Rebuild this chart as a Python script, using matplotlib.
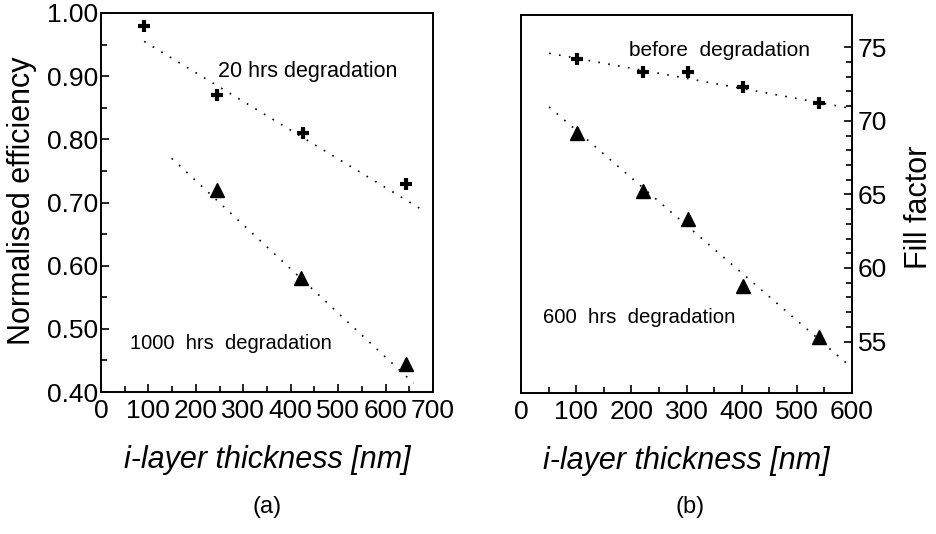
import matplotlib
matplotlib.use('Agg')
import matplotlib.pyplot as plt
from matplotlib.ticker import MultipleLocator, FixedLocator

plt.rcParams['font.family'] = ['Liberation Sans', 'DejaVu Sans']

# ---------------- data: panel (a) ----------------
a_x_20 = [91, 244, 425, 643]
a_y_20 = [0.98, 0.87, 0.81, 0.73]
a_x_1000 = [244, 422, 643]
a_y_1000 = [0.72, 0.58, 0.445]
a_fit20_x = [91, 676]
a_fit20_y = [0.955, 0.689]
a_fit1000_x = [149, 659]
a_fit1000_y = [0.770, 0.414]
a_xticks = [0, 100, 200, 300, 400, 500, 600, 700]
a_yticks = [0.40, 0.50, 0.60, 0.70, 0.80, 0.90, 1.00]

# ---------------- data: panel (b) ----------------
b_x = [101, 221, 302, 402, 541]
b_y_before = [74.2, 73.3, 73.3, 72.3, 71.2]
b_y_600 = [69.2, 65.2, 63.3, 58.8, 55.3]
b_fitb_x = [51, 591]
b_fitb_y = [74.6, 70.9]
b_fit600_x = [51, 597]
b_fit600_y = [70.95, 53.3]
b_xticks = [0, 100, 200, 300, 400, 500, 600]
b_yticks = [55, 60, 65, 70, 75]

W, H = 936, 534
fig = plt.figure(figsize=(W / 100, H / 100), dpi=100)

def frac(l, t, r, b):
    return [l / W, 1 - b / H, (r - l) / W, (b - t) / H]

dot = (0, (1, 5))
lw_spine = 1.4
tick_fs = 19

axa = fig.add_axes(frac(101, 13, 433, 392))
axb = fig.add_axes(frac(521, 15, 852, 393))

for ax in (axa, axb):
    for s in ax.spines.values():
        s.set_linewidth(lw_spine)

# panel (a)
axa.plot(a_fit20_x, a_fit20_y, color='black', lw=1.2, ls=dot)
axa.plot(a_fit1000_x, a_fit1000_y, color='black', lw=1.2, ls=dot)
axa.plot(a_x_20, a_y_20, ls='none', marker='+', ms=8.5, mew=3, color='black')
axa.plot(a_x_1000, a_y_1000, ls='none', marker='^', ms=9.5, color='black')
axa.set_xlim(0, 700)
axa.set_ylim(0.40, 1.00)
axa.set_xticks(a_xticks)
axa.set_xticklabels([str(v) for v in a_xticks])
axa.set_yticks(a_yticks)
axa.set_yticklabels(['%.2f' % v for v in a_yticks])
axa.xaxis.set_minor_locator(MultipleLocator(50))
axa.yaxis.set_minor_locator(MultipleLocator(0.05))
axa.tick_params(which='both', direction='in', top=False, right=False, labelsize=tick_fs, colors='black')
axa.tick_params(axis='x', which='both', pad=5)
axa.tick_params(axis='y', which='both', pad=2)
axa.tick_params(which='major', length=6, width=1.2)
axa.tick_params(which='minor', length=4, width=1.2)
axa.text(247, 0.907, '20 hrs degradation', fontsize=15.5, ha='left', va='center')
axa.text(61, 0.477, '1000  hrs  degradation', fontsize=14.5, ha='left', va='center')

# panel (b)
axb.plot(b_fitb_x, b_fitb_y, color='black', lw=1.2, ls=dot)
axb.plot(b_fit600_x, b_fit600_y, color='black', lw=1.2, ls=dot)
axb.plot(b_x, b_y_before, ls='none', marker='+', ms=9, mew=3, color='black')
axb.plot(b_x, b_y_600, ls='none', marker='^', ms=9.5, color='black')
axb.set_xlim(0, 600)
axb.set_ylim(51.5, 77.2)
axb.set_xticks(b_xticks)
axb.set_xticklabels([str(v) for v in b_xticks])
axb.yaxis.tick_right()
axb.set_yticks(b_yticks)
axb.set_yticklabels([str(v) for v in b_yticks])
axb.xaxis.set_minor_locator(MultipleLocator(50))
axb.yaxis.set_minor_locator(FixedLocator([v for v in range(56, 75) if v % 5 != 0]))
axb.tick_params(which='both', direction='in', top=False, left=False, labelleft=False,
                right=True, labelright=True, labelsize=tick_fs, colors='black')
axb.tick_params(axis='x', which='both', pad=5)
axb.tick_params(axis='y', which='both', pad=4)
axb.tick_params(which='major', length=6, width=1.2)
axb.tick_params(which='minor', length=4, width=1.2)
axb.text(195, 74.8, 'before  degradation', fontsize=15, ha='left', va='center')
axb.text(40, 56.6, '600  hrs  degradation', fontsize=14.7, ha='left', va='center')

# labels
fig.text(22 / W, 1 - 201 / H, 'Normalised efficiency', rotation=90, fontsize=22,
         ha='center', va='center')
fig.text(919 / W, 1 - 207 / H, 'Fill factor', rotation=90, fontsize=22,
         ha='center', va='center')
fig.text(267 / W, 1 - 460 / H, 'i-layer thickness [nm]', style='italic', fontsize=22,
         ha='center', va='center')
fig.text(686 / W, 1 - 461 / H, 'i-layer thickness [nm]', style='italic', fontsize=22,
         ha='center', va='center')
fig.text(267 / W, 1 - 507 / H, '(a)', fontsize=17, ha='center', va='center')
fig.text(690 / W, 1 - 507 / H, '(b)', fontsize=17, ha='center', va='center')

fig.savefig('out.png', dpi=100)
